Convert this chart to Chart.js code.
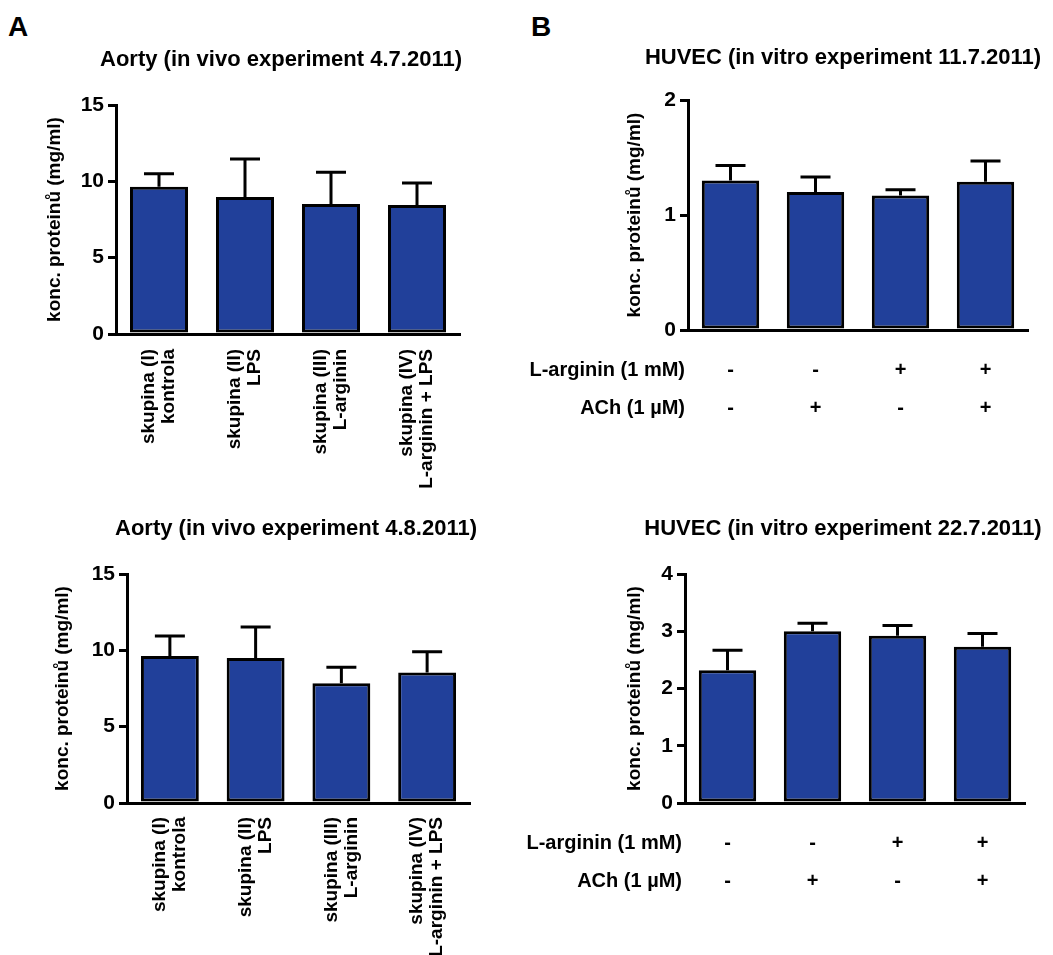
<!DOCTYPE html>
<html><head><meta charset="utf-8">
<script src="https://cdn.jsdelivr.net/npm/chart.js@4.4.1/dist/chart.umd.min.js"></script>
<style>
html,body{margin:0;padding:0;background:#fff;}
body{width:1053px;height:955px;position:relative;overflow:hidden;font-family:"Liberation Sans",Arial,sans-serif;}
canvas{position:absolute;}
.letter{position:absolute;font-weight:bold;font-size:28px;line-height:1;color:#000;}
</style></head><body>
<div class="letter" style="left:8px;top:13px">A</div>
<div class="letter" style="left:531px;top:13px">B</div>
<canvas id="a1" width="520" height="500" style="left:0;top:0"></canvas>
<canvas id="b1" width="533" height="480" style="left:520px;top:0"></canvas>
<canvas id="a2" width="520" height="475" style="left:0;top:480px"></canvas>
<canvas id="b2" width="533" height="475" style="left:520px;top:480px"></canvas>
<script>
// ---- data ----
const groupLabels = [['skupina (I)','kontrola'],['skupina (II)','LPS'],['skupina (III)','L-arginin'],['skupina (IV)','L-arginin + LPS']];
const comboLabels = [['-','-'],['-','+'],['+','-'],['+','+']];
const rowNames = ['L-arginin (1 mM)','ACh (1 µM)'];
const yTitle = 'konc. proteinů (mg/ml)';

const titleA1 = 'Aorty (in vivo experiment 4.7.2011)';
const titleA2 = 'Aorty (in vivo experiment 4.8.2011)';
const titleB1 = 'HUVEC (in vitro experiment 11.7.2011)';
const titleB2 = 'HUVEC (in vitro experiment 22.7.2011)';

const meanA1 = [9.65, 8.97, 8.52, 8.45];
const sdA1   = [0.85, 2.50, 2.08, 1.44];
const meanA2 = [9.63, 9.50, 7.84, 8.54];
const sdA2   = [1.31, 2.03, 1.05, 1.37];
const meanB1 = [1.30, 1.20, 1.17, 1.29];
const sdB1   = [0.13, 0.13, 0.05, 0.18];
const meanB2 = [2.32, 3.00, 2.92, 2.73];
const sdB2   = [0.35, 0.14, 0.18, 0.23];

const yTicksA  = [0, 5, 10, 15];
const yTicksB1 = [0, 1, 2];
const yTicksB2 = [0, 1, 2, 3, 4];

// ---- style ----
const FAMILY = '"Liberation Sans", Arial, sans-serif';
const BAR = '#21409a';
Chart.defaults.font.family = FAMILY;
Chart.defaults.color = '#000';

const errorBarPlugin = {
  id: 'errorBars',
  afterDatasetsDraw(chart, args, opts) {
    const ds = chart.data.datasets[0];
    const meta = chart.getDatasetMeta(0);
    const ys = chart.scales.y;
    const ctx = chart.ctx;
    ctx.save();
    ctx.strokeStyle = '#000';
    ctx.lineWidth = opts.lineWidth;
    meta.data.forEach((bar, i) => {
      const top = ys.getPixelForValue(ds.data[i]);
      const end = ys.getPixelForValue(ds.data[i] + ds.sd[i]);
      ctx.beginPath();
      ctx.moveTo(bar.x, top);
      ctx.lineTo(bar.x, end);
      ctx.moveTo(bar.x - opts.capWidth / 2, end);
      ctx.lineTo(bar.x + opts.capWidth / 2, end);
      ctx.stroke();
    });
    ctx.restore();
  }
};

const panelTitlePlugin = {
  id: 'panelTitle',
  afterDraw(chart, args, opts) {
    const ctx = chart.ctx;
    ctx.save();
    ctx.font = 'bold ' + opts.size + 'px ' + FAMILY;
    ctx.fillStyle = '#000';
    ctx.textAlign = 'center';
    ctx.textBaseline = 'middle';
    ctx.fillText(opts.text, opts.x, opts.y);
    ctx.restore();
  }
};

const rowLabelPlugin = {
  id: 'rowLabels',
  afterDraw(chart, args, opts) {
    if (!opts.rows) return;
    const xs = chart.scales.x;
    const f = xs.options.ticks.font;
    const lh = f.size * f.lineHeight;
    const y0 = xs.top + xs.options.ticks.padding;
    const ctx = chart.ctx;
    ctx.save();
    ctx.font = 'bold ' + f.size + 'px ' + FAMILY;
    ctx.fillStyle = '#000';
    ctx.textAlign = 'right';
    ctx.textBaseline = 'middle';
    opts.rows.forEach((r, i) => ctx.fillText(r, chart.chartArea.left - opts.gap, y0 + lh * (i + 0.5)));
    ctx.restore();
  }
};

function makeChart(id, c) {
  const g = c.geom;
  const t = c.ticks;
  const xFontSize = c.rotated ? 19 : 20;
  const xLine = c.rotated ? 20 / 19 : 38 / 20;
  return new Chart(document.getElementById(id), {
    type: 'bar',
    data: {
      labels: c.labels,
      datasets: [{
        data: c.means, sd: c.sds,
        backgroundColor: BAR, borderColor: '#000', borderWidth: 3, borderSkipped: false,
        barPercentage: 0.675, categoryPercentage: 1
      }]
    },
    options: {
      responsive: false, animation: false, events: [],
      layout: { padding: { left: g.pl, right: g.pr, top: g.pt, bottom: 0 } },
      plugins: {
        legend: { display: false }, tooltip: { enabled: false }, title: { display: false },
        errorBars: { lineWidth: 3, capWidth: 30 },
        panelTitle: { text: c.title, x: g.tx, y: g.ty, size: 22 },
        rowLabels: { rows: c.rows, gap: 3 }
      },
      scales: {
        x: {
          type: 'category', offset: true,
          grid: { display: false, drawTicks: false },
          border: { display: true, width: 3, color: '#000' },
          ticks: {
            autoSkip: false, minRotation: c.rotated ? 90 : 0, maxRotation: c.rotated ? 90 : 0,
            labelOffset: c.rotated ? -10 : 0,
            padding: g.xpad, color: '#000',
            font: { family: FAMILY, size: xFontSize, weight: 'bold', lineHeight: xLine }
          },
          afterFit: s => { s.height = g.xh; }
        },
        y: {
          min: t[0], max: t[t.length - 1],
          ticks: { stepSize: t[1] - t[0], padding: 4, color: '#000', font: { family: FAMILY, size: 21, weight: 'bold' } },
          grid: { display: true, drawOnChartArea: false, drawTicks: true, tickLength: 8, tickWidth: 3, tickColor: '#000', color: '#000', lineWidth: 3 },
          border: { display: true, width: 3, color: '#000' },
          title: { display: true, text: yTitle, color: '#000', font: { family: FAMILY, size: 19, weight: 'bold' }, padding: { top: 4, bottom: 4 } },
          afterFit: s => { s.width = g.yw; }
        }
      }
    },
    plugins: [errorBarPlugin, panelTitlePlugin, rowLabelPlugin]
  });
}

makeChart('a1', { labels: groupLabels, means: meanA1, sds: sdA1, ticks: yTicksA, title: titleA1, rotated: true,
  geom: { pl: 39, yw: 77, pr: 60, pt: 105, xh: 166, xpad: 15, tx: 281, ty: 60 } });
makeChart('a2', { labels: groupLabels, means: meanA2, sds: sdA2, ticks: yTicksA, title: titleA2, rotated: true,
  geom: { pl: 47, yw: 80, pr: 50, pt: 94, xh: 152, xpad: 14, tx: 296, ty: 49 } });
makeChart('b1', { labels: comboLabels, means: meanB1, sds: sdB1, ticks: yTicksB1, title: titleB1, rotated: false, rows: rowNames,
  geom: { pl: 99, yw: 69, pr: 25, pt: 100, xh: 150, xpad: 21, tx: 323, ty: 58 } });
makeChart('b2', { labels: comboLabels, means: meanB2, sds: sdB2, ticks: yTicksB2, title: titleB2, rotated: false, rows: rowNames,
  geom: { pl: 99, yw: 66, pr: 28, pt: 94, xh: 152, xpad: 21, tx: 323, ty: 49 } });
</script>
</body></html>
